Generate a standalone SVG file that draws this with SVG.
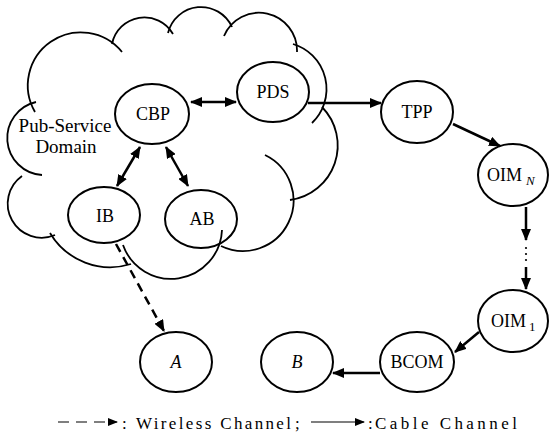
<svg xmlns="http://www.w3.org/2000/svg" width="550" height="445" viewBox="0 0 550 445" font-family="Liberation Serif, DejaVu Serif, Times New Roman, Times, serif">
  <defs>
    <style>
      .node { fill: none; stroke: #000; stroke-width: 2; }
      .lbl { font-size: 18px; fill: #000; }
      .mid { text-anchor: middle; }
      .it { font-style: italic; }
      .cloud path { fill: none; stroke: #000; stroke-width: 1.8; }
      .edge { fill: none; stroke: #000; stroke-width: 2.5; }
      .dash { stroke-dasharray: 9 6; }
      .leg { font-size: 17px; fill: #000; }
    </style>
    <marker id="arrow" markerUnits="userSpaceOnUse" viewBox="0 0 12 10" markerWidth="12" markerHeight="10" refX="11" refY="5" orient="auto-start-reverse">
      <path d="M0,0 L12,5 L0,10 z" fill="#000"/>
    </marker>
    <marker id="arrowSmall" markerUnits="userSpaceOnUse" viewBox="0 0 10 8" markerWidth="10" markerHeight="8" refX="9" refY="4" orient="auto">
      <path d="M0,0 L10,4 L0,8 z" fill="#000"/>
    </marker>
  </defs>

  <!-- cloud outline of the public service domain, bump by bump clockwise -->
  <g id="pub-service-domain" class="cloud">
    <path d="M35,112 A53,53 0 0 1 122,52"/>
    <path d="M112,44 A33,33 0 0 1 173,34"/>
    <path d="M168,33 A34,34 0 0 1 232,27"/>
    <path d="M224,36 A38,38 0 0 1 297,52"/>
    <path d="M293,44 A47,47 0 0 1 312,123"/>
    <path d="M322,107 A55,55 0 0 1 290,200"/>
    <path d="M265,155 A50,50 0 0 1 221,246"/>
    <path d="M222,230 A51,51 0 0 1 123,245"/>
    <path d="M131,264 A70,70 0 0 1 50,233"/>
    <path d="M55,235 A34,34 0 0 1 22,176"/>
    <path d="M42,175 A37,37 0 0 1 36,102"/>
    <text class="lbl mid" x="65" y="132" style="font-size:19px">Pub-Service</text>
    <text class="lbl mid" x="66" y="153" style="font-size:19px">Domain</text>
  </g>

  <!-- connectors -->
  <g id="connectors">
    <line class="edge" x1="191" y1="102" x2="236" y2="102" marker-start="url(#arrow)" marker-end="url(#arrow)"/>
    <line class="edge" x1="308" y1="103" x2="381" y2="103" marker-end="url(#arrow)"/>
    <line class="edge" x1="453" y1="124" x2="500" y2="146" marker-end="url(#arrow)"/>
    <line class="edge" x1="526" y1="207" x2="526" y2="240" marker-end="url(#arrow)"/>
    <circle cx="526" cy="248" r="1.1" fill="#000"/>
    <circle cx="526" cy="254" r="1.1" fill="#000"/>
    <circle cx="526" cy="260" r="1.1" fill="#000"/>
    <line class="edge" x1="526" y1="267" x2="526" y2="289" marker-end="url(#arrow)"/>
    <line class="edge" x1="479" y1="332" x2="455" y2="352" marker-end="url(#arrow)"/>
    <line class="edge" x1="380" y1="373" x2="333" y2="373" marker-end="url(#arrow)"/>
    <line class="edge" x1="140" y1="147" x2="117" y2="186" marker-start="url(#arrow)" marker-end="url(#arrow)"/>
    <line class="edge" x1="166" y1="147" x2="188" y2="186" marker-start="url(#arrow)" marker-end="url(#arrow)"/>
    <line class="edge dash" x1="116" y1="244" x2="164" y2="331" marker-end="url(#arrow)"/>
  </g>

  <g id="cbp"><ellipse class="node" cx="152" cy="114" rx="37" ry="30"/><text class="lbl mid" x="153" y="120">CBP</text></g>
  <g id="pds"><ellipse class="node" cx="273" cy="92" rx="36" ry="30"/><text class="lbl mid" x="273" y="98">PDS</text></g>
  <g id="tpp"><ellipse class="node" cx="417" cy="112" rx="36" ry="31"/><text class="lbl mid" x="417" y="118">TPP</text></g>
  <g id="oim-n"><ellipse class="node" cx="513" cy="175" rx="35" ry="31"/><text class="lbl" x="487" y="181">OIM<tspan class="it" dx="4" dy="4" style="font-size:13px">N</tspan></text></g>
  <g id="oim-1"><ellipse class="node" cx="513" cy="321" rx="35" ry="31"/><text class="lbl" x="491" y="327">OIM<tspan dx="3" dy="4" style="font-size:13px">1</tspan></text></g>
  <g id="bcom"><ellipse class="node" cx="417" cy="362" rx="37" ry="30"/><text class="lbl mid" x="417" y="368">BCOM</text></g>
  <g id="b"><ellipse class="node" cx="297" cy="362" rx="36" ry="30"/><text class="lbl mid it" x="297" y="368">B</text></g>
  <g id="a"><ellipse class="node" cx="176" cy="362" rx="36" ry="30"/><text class="lbl mid it" x="176" y="368">A</text></g>
  <g id="ib"><ellipse class="node" cx="104" cy="215" rx="36" ry="28"/><text class="lbl mid" x="105" y="222">IB</text></g>
  <g id="ab"><ellipse class="node" cx="201" cy="219" rx="36" ry="29"/><text class="lbl mid" x="202" y="225">AB</text></g>

  <!-- legend -->
  <g id="legend">
    <line x1="58" y1="422" x2="117" y2="422" stroke="#000" stroke-width="1.2" stroke-dasharray="11 7" marker-end="url(#arrowSmall)"/>
    <text class="leg" x="122" y="429">:</text>
    <text class="leg" x="136" y="429" textLength="155" lengthAdjust="spacing">Wireless Channel</text>
    <text class="leg" x="295" y="429">;</text>
    <line x1="311" y1="422" x2="364" y2="422" stroke="#000" stroke-width="1.2" marker-end="url(#arrowSmall)"/>
    <text class="leg" x="368" y="429">:</text>
    <text class="leg" x="375" y="429" textLength="142" lengthAdjust="spacing">Cable Channel</text>
  </g>
</svg>
